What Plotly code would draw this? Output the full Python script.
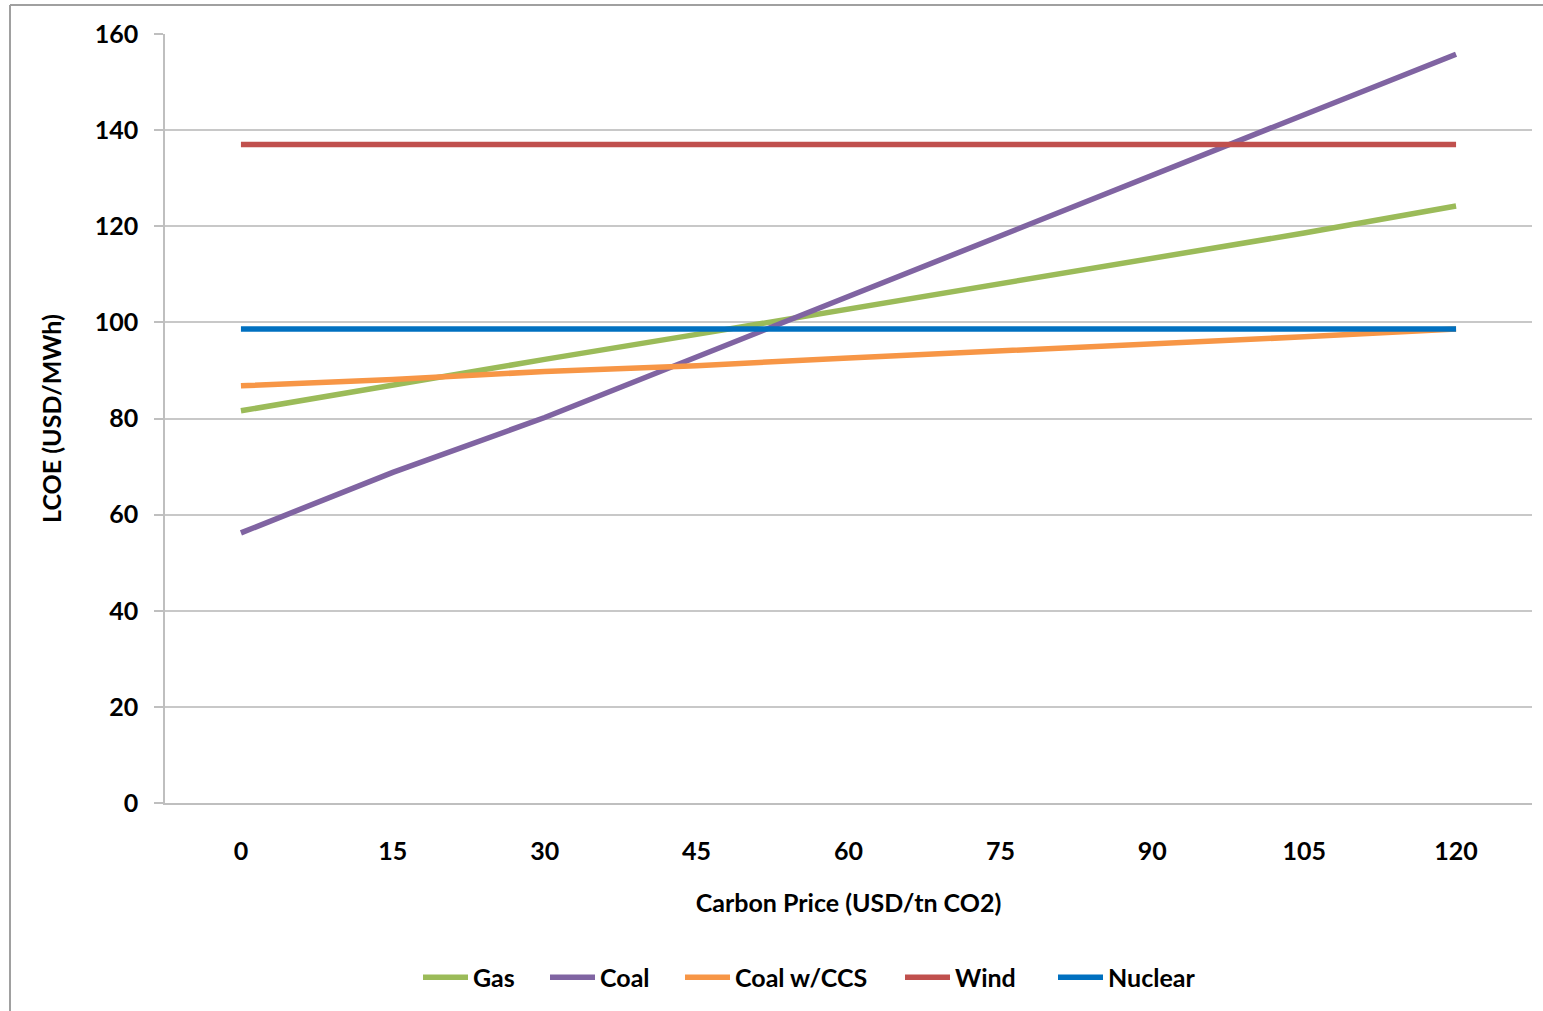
import plotly.graph_objects as go

# Carbon price steps (USD/tn CO2)
carbon_price = [0, 15, 30, 45, 60, 75, 90, 105, 120]

# Levelised cost of electricity by technology (USD/MWh)
gas = [81.6, 87.0, 92.3, 97.5, 102.8, 108.1, 113.3, 118.6, 124.2]
coal = [56.2, 68.8, 80.2, 92.8, 105.4, 118.0, 130.6, 143.2, 155.8]
coal_ccs = [86.8, 88.1, 89.8, 91.0, 92.6, 94.0, 95.6, 97.0, 98.6]
wind = [137.0] * 9
nuclear = [98.6] * 9

series = [
    ("Gas", gas, "#9BBB59"),
    ("Coal", coal, "#8064A2"),
    ("Coal w/CCS", coal_ccs, "#F79646"),
    ("Wind", wind, "#C0504D"),
    ("Nuclear", nuclear, "#0070C0"),
]

font_family = "Lato, 'Open Sans', sans-serif"

# Plot-area geometry in pixels, used to place legend entries along the bottom
PLOT_LEFT, PLOT_WIDTH = 165, 1367
legend_px = [418, 545, 680, 900, 1053]

fig = go.Figure()
legend_layout = {}
for i, ((name, values, color), px) in enumerate(zip(series, legend_px)):
    key = "legend" if i == 0 else f"legend{i + 1}"
    fig.add_trace(go.Scatter(
        x=carbon_price, y=values, name=name, mode="lines",
        line=dict(color=color, width=5.5), legend=key,
    ))
    legend_layout[key] = dict(
        orientation="h", x=(px - PLOT_LEFT) / PLOT_WIDTH, xanchor="left",
        y=-0.227, yanchor="middle", itemwidth=45,
        bgcolor="rgba(0,0,0,0)",
        font=dict(size=25, family=font_family, weight="bold"),
    )

fig.update_layout(
    width=1543, height=1011,
    margin=dict(l=165, r=11, t=34, b=208),
    paper_bgcolor="white", plot_bgcolor="white",
    font=dict(family=font_family, color="black"),
    showlegend=True,
    xaxis=dict(
        range=[-7.5, 127.5], tickvals=carbon_price,
        ticktext=[str(v) for v in carbon_price],
        showgrid=False, zeroline=False,
        showline=True, linecolor="#BFBFBF", linewidth=1.5,
        ticks="", ticklabelstandoff=25,
        tickfont=dict(size=25, family=font_family, weight="bold"),
        title=dict(text="Carbon Price (USD/tn CO2)", standoff=31,
                   font=dict(size=25, family=font_family, weight="bold")),
    ),
    yaxis=dict(
        range=[0, 160], tickvals=list(range(0, 161, 20)),
        showgrid=True, gridcolor="#C8C8C8", gridwidth=1.5,
        zeroline=False,
        showline=True, linecolor="#BFBFBF", linewidth=1.5,
        ticks="outside", ticklen=9, tickcolor="#BFBFBF", tickwidth=1.5,
        ticklabelstandoff=11,
        tickfont=dict(size=25, family=font_family, weight="bold"),
        title=dict(text="LCOE (USD/MWh)", standoff=26,
                   font=dict(size=25, family=font_family, weight="bold")),
    ),
    **legend_layout,
)

# Outer chart border (left and top edges)
fig.add_shape(type="line", xref="paper", yref="paper",
              x0=(10 - 165) / 1367, x1=(10 - 165) / 1367,
              y0=(803 - 1011) / 769, y1=(803 - 5) / 769,
              line=dict(color="#A0A0A0", width=2))
fig.add_shape(type="line", xref="paper", yref="paper",
              x0=(10 - 165) / 1367, x1=(1543 - 165) / 1367,
              y0=(803 - 5) / 769, y1=(803 - 5) / 769,
              line=dict(color="#A0A0A0", width=2))

fig.write_html("out.html")
